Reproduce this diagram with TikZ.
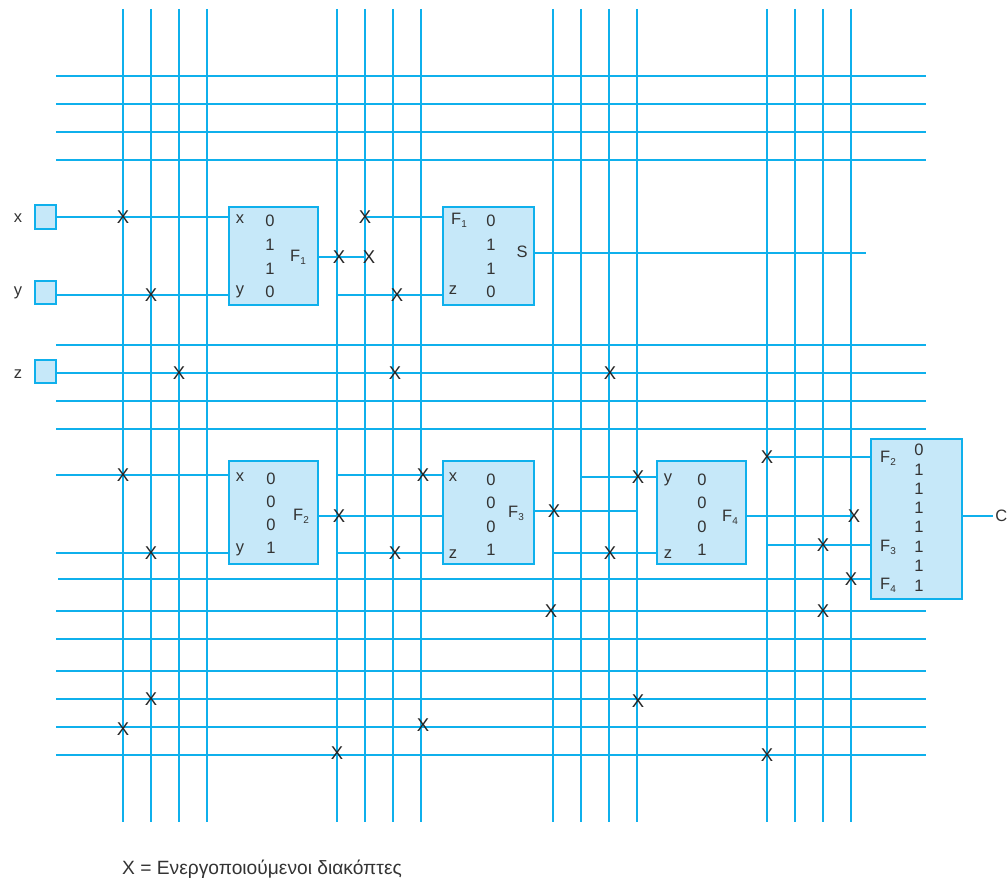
\documentclass[tikz,border=0pt]{standalone}
\usepackage{fontspec}
\setmainfont{Liberation Sans}
\definecolor{wirec}{HTML}{0FB0EC}
\definecolor{fillc}{HTML}{C6E8F9}
\definecolor{inkc}{HTML}{333333}
\newcommand{\Fs}[1]{F\raisebox{-0.35ex}{\fontsize{10}{10}\selectfont #1}}
\tikzset{
  wire/.style={draw=wirec,line width=1.5pt},
  block/.style={draw=wirec,fill=fillc,line width=1.5pt,inner sep=0pt,outer sep=0pt,anchor=north west},
  lab/.style={text=inkc,font=\fontsize{16.5}{19}\selectfont,inner sep=0pt},
  sw/.style={text=black!85,font=\fontsize{18.5}{20}\selectfont,inner sep=0pt}
}
\begin{document}
\begin{tikzpicture}[x=1pt,y=-1pt]
\useasboundingbox (0,0) rectangle (1008,880);
% vertical buses
\foreach \v in {123,151,179,207,337,365,393,421,553,581,609,637,767,795,823,851}
  {\coordinate (t\v) at (\v,9); \coordinate (b\v) at (\v,822); \draw[wire] (t\v) -- (b\v);}
% horizontal buses
\foreach \h in {76,104,132,160,345,373,401,429,611,639,671,699,727,755}
  {\coordinate (l\h) at (56,\h); \coordinate (r\h) at (926,\h); \draw[wire] (l\h) -- (r\h);}
% blocks
\node[block,minimum width=21pt,minimum height=24pt] (ix) at (35,205) {};
\node[block,minimum width=21pt,minimum height=23pt] (iy) at (35,281) {};
\node[block,minimum width=21pt,minimum height=23pt] (iz) at (35,360) {};
\node[block,minimum width=89pt,minimum height=98pt] (f1) at (229,207) {};
\node[block,minimum width=91pt,minimum height=98pt] (s1) at (443,207) {};
\node[block,minimum width=89pt,minimum height=103pt] (f2) at (229,461) {};
\node[block,minimum width=91pt,minimum height=103pt] (f3) at (443,461) {};
\node[block,minimum width=89pt,minimum height=103pt] (f4) at (657,461) {};
\node[block,minimum width=91pt,minimum height=160pt] (c1) at (871,439) {};
% free wire ends
\coordinate (a1) at (56,217);
\coordinate (a2) at (56,295);
\coordinate (a3) at (56,475);
\coordinate (a4) at (56,553);
\coordinate (a5) at (58,579);
\coordinate (e1) at (365,217);
\coordinate (e2) at (337,295);
\coordinate (e3) at (365,257);
\coordinate (e4) at (866,253);
\coordinate (e5) at (337,475);
\coordinate (e6) at (337,553);
\coordinate (e7) at (637,511);
\coordinate (e8) at (581,477);
\coordinate (e9) at (553,553);
\coordinate (e10) at (853,516);
\coordinate (e11) at (767,457);
\coordinate (e12) at (767,545);
\coordinate (o1) at (993,516);
% wires
\draw[wire] (a1) -- (a1 -| f1.west);
\draw[wire] (a2) -- (a2 -| f1.west);
\draw[wire] (iz.east |- l373) -- (l373);
\draw[wire] (e1) -- (e1 -| s1.west);
\draw[wire] (e2) -- (e2 -| s1.west);
\draw[wire] (e3 -| f1.east) -- (e3);
\draw[wire] (e4 -| s1.east) -- (e4);
\draw[wire] (a3) -- (a3 -| f2.west);
\draw[wire] (a4) -- (a4 -| f2.west);
\draw[wire] (e5) -- (e5 -| f3.west);
\draw[wire] (e6) -- (e6 -| f3.west);
\draw[wire] (f2.east |- e10) -- (f3.west |- e10);
\draw[wire] (e7 -| f3.east) -- (e7);
\draw[wire] (e8) -- (e8 -| f4.west);
\draw[wire] (e9) -- (e9 -| f4.west);
\draw[wire] (e10 -| f4.east) -- (e10);
\draw[wire] (e11) -- (e11 -| c1.west);
\draw[wire] (e12) -- (e12 -| c1.west);
\draw[wire] (a5) -- (a5 -| c1.west);
\draw[wire] (o1 -| c1.east) -- (o1);
% input labels
\node[lab] (lx) at (18,218) {x};
\node[lab] (ly) at (18,293) {y};
\node[lab] (lz) at (18,374) {z};
% block F1
\node[lab] (p1) at (240,219) {x};
\node[lab] (p2) at (240,292) {y};
\node[lab] (p3) at (298,257) {\Fs{1}};
\foreach \y/\t [count=\i] in {221/0,245/1,269/1,292/0} \node[lab] (d1\i) at (270,\y) {\t};
% block S
\node[lab] (q1) at (459,220) {\Fs{1}};
\node[lab] (q2) at (453,290) {z};
\node[lab] (q3) at (522,252) {S};
\foreach \y/\t [count=\i] in {221/0,245/1,269/1,292/0} \node[lab] (d2\i) at (491,\y) {\t};
% block F2
\node[lab] (r1) at (240,477) {x};
\node[lab] (r2) at (240,550) {y};
\node[lab] (r3) at (301,516) {\Fs{2}};
\foreach \y/\t [count=\i] in {479/0,502/0,525/0,548/1} \node[lab] (d3\i) at (271,\y) {\t};
% block F3
\node[lab] (u1) at (453,477) {x};
\node[lab] (u2) at (453,554) {z};
\node[lab] (u3) at (516,513) {\Fs{3}};
\foreach \y/\t [count=\i] in {480/0,503/0,527/0,550/1} \node[lab] (d4\i) at (491,\y) {\t};
% block F4
\node[lab] (w1) at (668,480) {y};
\node[lab] (w2) at (668,554) {z};
\node[lab] (w3) at (730,517) {\Fs{4}};
\foreach \y/\t [count=\i] in {480/0,503/0,527/0,550/1} \node[lab] (d5\i) at (702,\y) {\t};
% output block
\node[lab] (z1) at (888,458) {\Fs{2}};
\node[lab] (z2) at (888,547) {\Fs{3}};
\node[lab] (z3) at (888,585) {\Fs{4}};
\foreach \y/\t [count=\i] in {450/0,470/1,489/1,508/1,527/1,547/1,566/1,586/1} \node[lab] (d6\i) at (919,\y) {\t};
\node[lab,anchor=east] (co) at (1007.5,516) {C};
% switches
\foreach \x/\y [count=\i] in {123/217,151/295,179/373,365/217,339/257,369/257,397/295,395/373,610/373,
  123/475,151/553,339/516,423/475,395/553,554/511,638/477,610/553,767/457,854/516,823/545,851/579,
  551/611,823/611,151/699,123/729,423/725,337/753,638/701,767/755}
  \node[sw] (x\i) at (\x,\y) {X};
% caption
\node[lab,anchor=west,font=\fontsize{19.2}{21}\selectfont] (cap) at (122,869) {X = Ενεργοποιούμενοι διακόπτες};
\end{tikzpicture}
\end{document}
